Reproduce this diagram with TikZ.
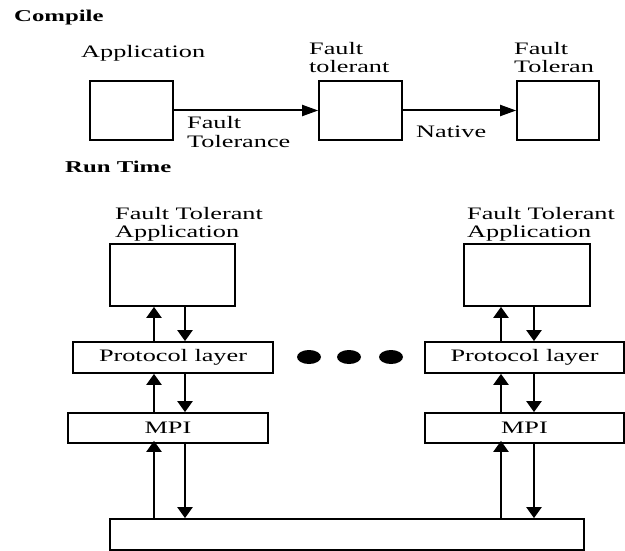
\documentclass[tikz,border=0pt]{standalone}
\usepackage{fontspec}
\setmainfont[FakeStretch=1.5]{Liberation Serif}
\usetikzlibrary{arrows.meta,shapes.geometric}
\tikzset{
  lbl/.style={inner sep=0pt, anchor=base west, font=\fontsize{17.5}{18}\selectfont, align=left},
  hdr/.style={inner sep=0pt, anchor=base west, font=\fontsize{16.5}{18}\selectfont\bfseries},
  txt/.style={font=\fontsize{17.5}{18}\selectfont},
  box/.style={draw, line width=1.7pt, inner sep=0pt, minimum width=#1},
  harr/.style={line width=2pt, -{Triangle[length=16pt,width=11pt]}},
  varr/.style={line width=2.2pt, -{Triangle[length=11pt,width=15pt]}},
  dot/.style={fill=black, ellipse, inner sep=0pt, minimum width=24pt, minimum height=14pt}
}
\begin{document}
\begin{tikzpicture}[x=1pt,y=-1pt]
\useasboundingbox (0,0) rectangle (625,551);
% Compile section
\node[hdr] (compile) at (14,22) {Compile};
\node[box=83pt, minimum height=59pt] (b1) at (131.5,110.5) {};
\node[box=83pt, minimum height=59pt] (b2) at (360.5,110.5) {};
\node[box=82pt, minimum height=59pt] (b3) at (558,110.5) {};
\node[lbl] (lapp) at (81,58) {Application};
\node[lbl] (lft) at (309,73) {Fault\\tolerant};
\node[lbl] (lftr) at (514,73) {Fault\\Toleran};
\draw[harr] (b1) -- (b2);
\draw[harr] (b2) -- (b3);
\node[lbl] (lftc) at (187,147) {Fault\\Tolerance};
\node[lbl] (lnat) at (416,138) {Native};
% Run time section
\node[hdr] (runtime) at (65,173) {Run Time};
\node[lbl] (lappL) at (115,237) {Fault Tolerant\\Application};
\node[lbl] (lappR) at (467,237) {Fault Tolerant\\Application};
\node[box=125pt, minimum height=62pt] (appL) at (172.5,275) {};
\node[box=126pt, minimum height=62pt] (appR) at (527,275) {};
\node[box=200pt, minimum height=31pt, txt] (protoL) at (173,357.5) {Protocol layer};
\node[box=199pt, minimum height=31pt, txt] (protoR) at (524.5,357.5) {Protocol layer};
\node[box=200pt, minimum height=30pt, txt] (mpiL) at (168,428) {MPI};
\node[box=199pt, minimum height=30pt, txt] (mpiR) at (524.5,428) {MPI};
\node[box=474pt, minimum height=31pt] (net) at (347,534.5) {};
% dots
\node[dot] (d1) at (309,357) {};
\node[dot] (d2) at (349,357) {};
\node[dot] (d3) at (391,357) {};
% arrow columns
\coordinate (uL) at (154,0);
\coordinate (dL) at (185,0);
\coordinate (uR) at (501,0);
\coordinate (dR) at (534,0);
% left stack
\draw[varr] (protoL.north -| uL) -- (appL.south -| uL);
\draw[varr] (appL.south -| dL) -- (protoL.north -| dL);
\draw[varr] (mpiL.north -| uL) -- (protoL.south -| uL);
\draw[varr] (protoL.south -| dL) -- (mpiL.north -| dL);
\draw[varr] (net.north -| uL) -- ([yshift=3pt]mpiL.south -| uL);
\draw[varr] ([yshift=2pt]mpiL.south -| dL) -- (net.north -| dL);
% right stack
\draw[varr] (protoR.north -| uR) -- (appR.south -| uR);
\draw[varr] (appR.south -| dR) -- (protoR.north -| dR);
\draw[varr] (mpiR.north -| uR) -- (protoR.south -| uR);
\draw[varr] (protoR.south -| dR) -- (mpiR.north -| dR);
\draw[varr] (net.north -| uR) -- ([yshift=3pt]mpiR.south -| uR);
\draw[varr] ([yshift=2pt]mpiR.south -| dR) -- (net.north -| dR);
\end{tikzpicture}
\end{document}
